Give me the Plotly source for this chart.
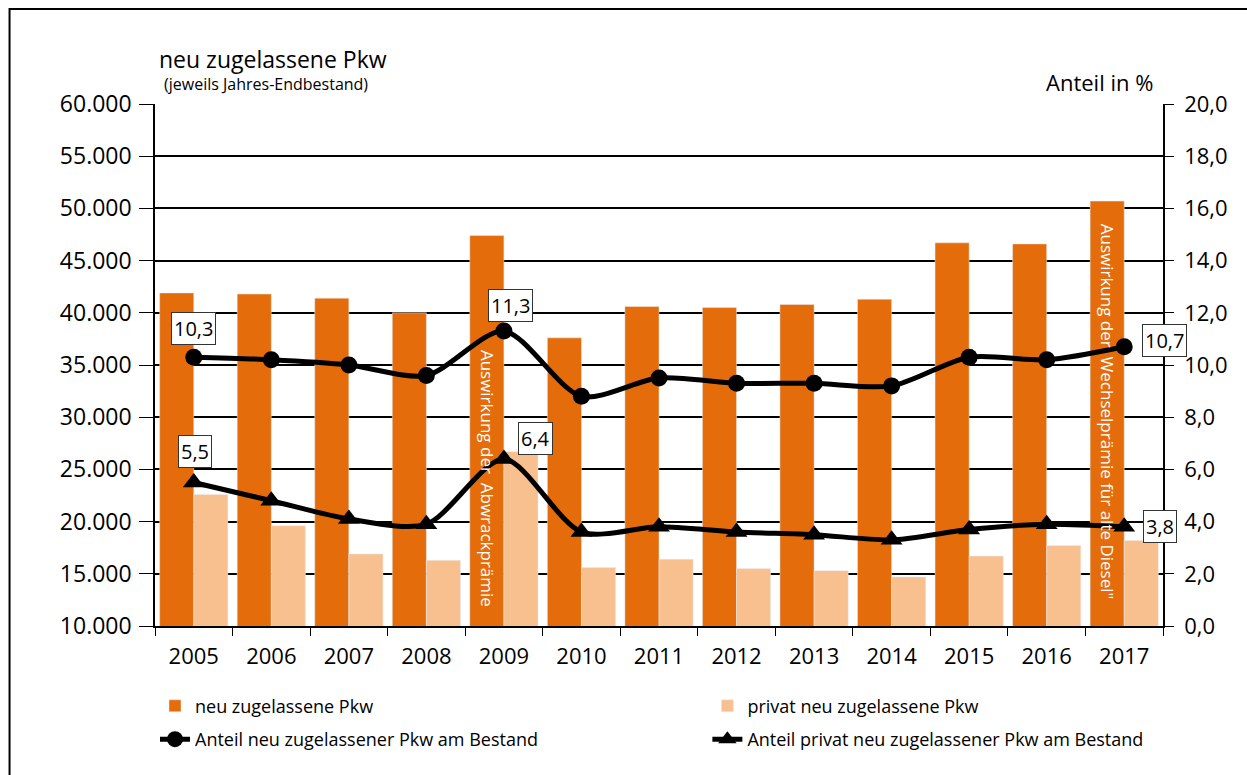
import plotly.graph_objects as go

# Daten
jahre = ["2005", "2006", "2007", "2008", "2009", "2010", "2011",
         "2012", "2013", "2014", "2015", "2016", "2017"]
neu_pkw = [41900, 41800, 41400, 40000, 47400, 37600, 40600,
           40500, 40800, 41300, 46700, 46600, 50700]
privat_pkw = [22600, 19600, 16900, 16300, 26700, 15600, 16400,
              15500, 15300, 14700, 16700, 17700, 18200]
anteil_neu = [10.3, 10.2, 10.0, 9.6, 11.3, 8.8, 9.5, 9.3, 9.3, 9.2, 10.3, 10.2, 10.7]
anteil_privat = [5.5, 4.8, 4.1, 3.9, 6.4, 3.6, 3.8, 3.6, 3.5, 3.3, 3.7, 3.9, 3.8]

# beschriftete Punkte: (Jahr, Wert, Versatz x, Versatz y)
labels_neu = [("2005", 10.3, 0, 29), ("2009", 11.3, 7, 26), ("2017", 10.7, 40, 6)]
labels_privat = [("2005", 5.5, 1, 31), ("2009", 6.4, 32, 20), ("2017", 3.8, 36, 0)]

FONT = "Open Sans"
DUNKEL = "#E46C0A"
HELL = "#F9C08F"

fig = go.Figure()

fig.add_trace(go.Bar(x=jahre, y=neu_pkw, name="neu zugelassene Pkw",
                     marker_color=DUNKEL, legend="legend", legendgroup="a"))
fig.add_trace(go.Bar(x=jahre, y=privat_pkw, name="privat neu zugelassene Pkw",
                     marker_color=HELL, legend="legend2", legendgroup="b"))
fig.add_trace(go.Scatter(x=jahre, y=anteil_neu, yaxis="y2", mode="lines+markers",
                         name="Anteil neu zugelassener Pkw am Bestand",
                         line=dict(color="black", width=5, shape="spline", smoothing=0.8),
                         marker=dict(symbol="circle", size=17, color="black"),
                         legend="legend", legendgroup="c"))
fig.add_trace(go.Scatter(x=jahre, y=anteil_privat, yaxis="y2", mode="lines+markers",
                         name="Anteil privat neu zugelassener Pkw am Bestand",
                         line=dict(color="black", width=5, shape="spline", smoothing=0.8),
                         marker=dict(symbol="triangle-up", size=19, color="black"),
                         legend="legend2", legendgroup="d"))

annotations = []
for jahr, wert, dx, dy in labels_neu + labels_privat:
    annotations.append(dict(
        x=jahre.index(jahr), y=wert, xref="x", yref="y2",
        text=f"{wert:.1f}".replace(".", ","),
        showarrow=False, xshift=dx, yshift=dy,
        font=dict(family=FONT, size=20, color="black"),
        bgcolor="white", bordercolor="#333333", borderwidth=1, borderpad=2))

# senkrechte Texte in den Balken
annotations.append(dict(x=jahre.index("2009"), y=24100, xref="x", yref="y", xshift=-17,
                        text="Auswirkung der  Abwrackprämie", textangle=90,
                        showarrow=False, font=dict(family=FONT, size=17, color="white")))
annotations.append(dict(x=jahre.index("2017"), y=30500, xref="x", yref="y", xshift=-17,
                        text="Auswirkung der  Wechselprämie für alte Diesel\"", textangle=90,
                        showarrow=False, font=dict(family=FONT, size=17, color="white")))

# Achsentitel
annotations.append(dict(x=0.002, y=1.087, xref="paper", yref="paper", xanchor="left",
                        yanchor="middle", text="neu zugelassene Pkw", showarrow=False,
                        font=dict(family=FONT, size=23, color="black")))
annotations.append(dict(x=0.007, y=1.039, xref="paper", yref="paper", xanchor="left",
                        yanchor="middle", text="(jeweils Jahres-Endbestand)", showarrow=False,
                        font=dict(family=FONT, size=16, color="black")))
annotations.append(dict(x=0.992, y=1.042, xref="paper", yref="paper", xanchor="right",
                        yanchor="middle", text="Anteil in %", showarrow=False,
                        font=dict(family=FONT, size=22, color="black")))

fig.update_layout(
    width=1247, height=775,
    margin=dict(l=155, r=84, t=104, b=149),
    paper_bgcolor="white", plot_bgcolor="white",
    separators=",.",
    barmode="group", bargap=0.12, bargroupgap=0,
    font=dict(family=FONT, size=22, color="black"),
    xaxis=dict(type="category", range=[-0.5, 12.5], showline=True, linecolor="black",
               linewidth=1.5, ticks="outside", ticklen=8, tickcolor="black",
               tickson="boundaries", showgrid=False, tickfont=dict(size=22),
               ticklabelstandoff=10),
    yaxis=dict(range=[10000, 60000], dtick=5000, tickformat=",.0f",
               showline=True, linecolor="black", linewidth=1.5,
               ticks="outside", ticklen=14, tickcolor="black",
               showgrid=True, gridcolor="black", gridwidth=1.5, zeroline=False,
               tickfont=dict(size=23), ticklabelstandoff=3),
    yaxis2=dict(range=[0, 20], dtick=2, tickformat=".1f", overlaying="y", side="right",
                showline=True, linecolor="black", linewidth=1.5,
                ticks="outside", ticklen=9, tickcolor="black",
                showgrid=False, zeroline=False, tickfont=dict(size=22),
                ticklabelstandoff=6),
    legend=dict(x=0.0, y=-0.118, xanchor="left", yanchor="top", orientation="v",
                font=dict(family=FONT, size=18), tracegroupgap=7, bgcolor="rgba(0,0,0,0)"),
    legend2=dict(x=0.548, y=-0.118, xanchor="left", yanchor="top", orientation="v",
                 font=dict(family=FONT, size=18), tracegroupgap=7, bgcolor="rgba(0,0,0,0)"),
    annotations=annotations,
    shapes=[dict(type="rect", xref="paper", yref="paper", x0=-0.1443, x1=1.3,
                 y0=-0.5, y1=1.182, line=dict(color="black", width=2),
                 fillcolor="rgba(0,0,0,0)", layer="below")],
)

# Seitenrand entfernen, damit die Figur genau im Fenster sitzt
fig.write_html("out.html", config={"displayModeBar": False},
               post_script="document.body.style.margin='0';"
                           "document.body.style.overflow='hidden';")
